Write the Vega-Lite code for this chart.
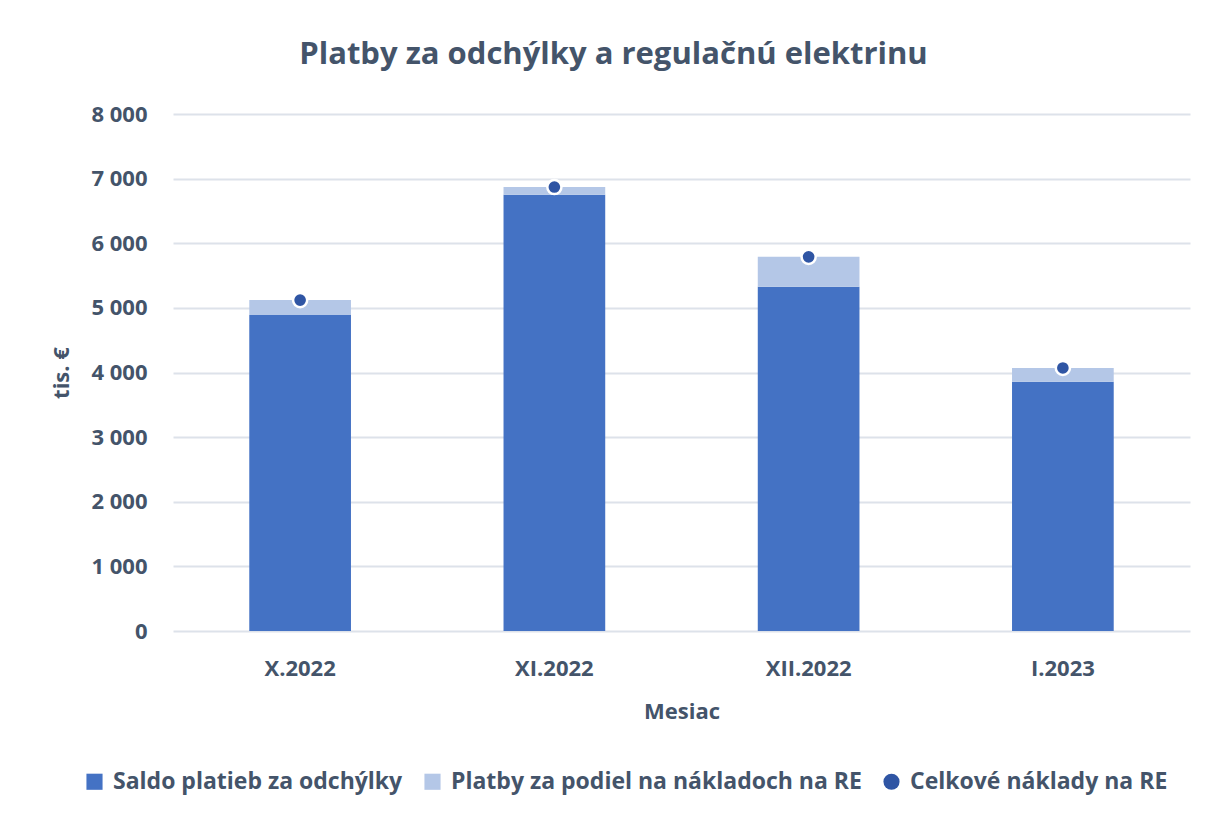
{
  "$schema": "https://vega.github.io/schema/vega-lite/v6.json",
  "autosize": {"type": "none"},
  "width": 1017,
  "height": 517,
  "padding": {"left": 173, "top": 114, "right": 18, "bottom": 188},
  "background": "white",
  "title": {
    "text": "Platby za odchýlky a regulačnú elektrinu",
    "anchor": "middle",
    "dx": -68,
    "offset": 32,
    "fontSize": 31,
    "font": "Open Sans",
    "fontWeight": "bold",
    "color": "#44546A"
  },
  "config": {
    "font": "Open Sans",
    "view": {"stroke": null},
    "axis": {
      "labelFont": "Open Sans",
      "titleFont": "Open Sans",
      "labelColor": "#44546A",
      "titleColor": "#44546A",
      "labelFontWeight": "bold",
      "titleFontWeight": "bold",
      "labelFontSize": 22,
      "titleFontSize": 22
    }
  },
  "datasets": {
    "stlpce": [
      {"mesiac": "X.2022", "seria": "Saldo platieb za odchýlky", "poradie": 1, "hodnota": 4890},
      {"mesiac": "X.2022", "seria": "Platby za podiel na nákladoch na RE", "poradie": 2, "hodnota": 230},
      {"mesiac": "XI.2022", "seria": "Saldo platieb za odchýlky", "poradie": 1, "hodnota": 6750},
      {"mesiac": "XI.2022", "seria": "Platby za podiel na nákladoch na RE", "poradie": 2, "hodnota": 120},
      {"mesiac": "XII.2022", "seria": "Saldo platieb za odchýlky", "poradie": 1, "hodnota": 5325},
      {"mesiac": "XII.2022", "seria": "Platby za podiel na nákladoch na RE", "poradie": 2, "hodnota": 465},
      {"mesiac": "I.2023", "seria": "Saldo platieb za odchýlky", "poradie": 1, "hodnota": 3855},
      {"mesiac": "I.2023", "seria": "Platby za podiel na nákladoch na RE", "poradie": 2, "hodnota": 215}
    ],
    "body": [
      {"mesiac": "X.2022", "seria": "Celkové náklady na RE", "hodnota": 5120},
      {"mesiac": "XI.2022", "seria": "Celkové náklady na RE", "hodnota": 6870},
      {"mesiac": "XII.2022", "seria": "Celkové náklady na RE", "hodnota": 5790},
      {"mesiac": "I.2023", "seria": "Celkové náklady na RE", "hodnota": 4070}
    ]
  },
  "encoding": {
    "x": {
      "field": "mesiac",
      "type": "nominal",
      "sort": ["X.2022", "XI.2022", "XII.2022", "I.2023"],
      "scale": {"paddingInner": 0.6, "paddingOuter": 0.3},
      "axis": {
        "title": "Mesiac",
        "labelAngle": 0,
        "labelPadding": 27,
        "titlePadding": 22,
        "domain": false,
        "ticks": false
      }
    },
    "y": {
      "field": "hodnota",
      "type": "quantitative",
      "scale": {"domain": [0, 8000]},
      "axis": {
        "title": "tis. €",
        "values": [0, 1000, 2000, 3000, 4000, 5000, 6000, 7000, 8000],
        "labelExpr": "replace(format(datum.value, ','), ',', ' ')",
        "labelPadding": 26,
        "titlePadding": 17,
        "domain": false,
        "ticks": false,
        "gridColor": "#DDE2EA",
        "gridWidth": 2
      }
    }
  },
  "layer": [
    {
      "data": {"name": "stlpce"},
      "mark": {"type": "bar"},
      "encoding": {
        "y": {
          "field": "hodnota",
          "type": "quantitative",
          "stack": "zero"
        },
        "order": {"field": "poradie", "type": "quantitative"},
        "color": {
          "field": "seria",
          "type": "nominal",
          "scale": {
            "domain": ["Saldo platieb za odchýlky", "Platby za podiel na nákladoch na RE", "Celkové náklady na RE"],
            "range": ["#4472C4", "#B4C7E7", "#2F55A4"]
          },
          "legend": {
            "title": null,
            "orient": "none",
            "direction": "horizontal",
            "legendX": -90,
            "legendY": 656,
            "labelFont": "Open Sans",
            "labelFontSize": 23,
            "labelFontWeight": "bold",
            "labelColor": "#44546A",
            "symbolSize": 260,
            "symbolStrokeWidth": 0,
            "labelOffset": 7,
            "columnPadding": 18,
            "labelLimit": 500
          }
        }
      }
    },
    {
      "data": {"name": "body"},
      "mark": {"type": "point", "filled": true, "size": 200, "stroke": "white", "strokeWidth": 2.5, "opacity": 1},
      "encoding": {
        "color": {"field": "seria", "type": "nominal"},
        "shape": {
          "field": "seria",
          "type": "nominal",
          "scale": {
            "domain": ["Saldo platieb za odchýlky", "Platby za podiel na nákladoch na RE", "Celkové náklady na RE"],
            "range": ["square", "square", "circle"]
          }
        }
      }
    }
  ]
}
